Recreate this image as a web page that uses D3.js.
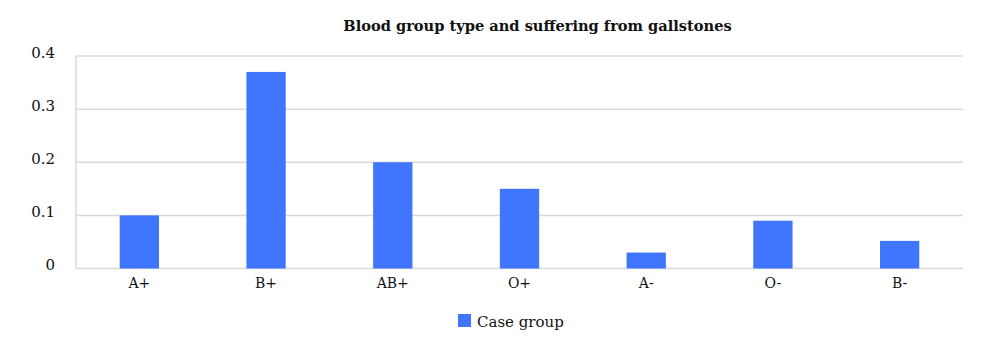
<!DOCTYPE html>
<html><head><meta charset="utf-8">
<script src="https://cdn.jsdelivr.net/npm/d3@7"></script>
<style>body{margin:0;background:#fff}svg{display:block}text{font-family:"DejaVu Serif","Liberation Serif",serif;fill:#111}</style>
</head><body><svg id="c" width="1000" height="341"></svg>
<script>
const categories = ["A+","B+","AB+","O+","A-","O-","B-"];
const caseGroup = [0.1,0.37,0.2,0.15,0.03,0.09,0.052];
const yTicks = [0,0.1,0.2,0.3,0.4];
const title = "Blood group type and suffering from gallstones";
const seriesName = "Case group";

const svg = d3.select("#c");
const L=76,R=963,T=56,B=268.5;
const x = d3.scaleBand().domain(categories).range([L,R]).paddingInner(0.69).paddingOuter(0.345);
const y = d3.scaleLinear().domain([0,0.4]).range([B,T]);

svg.append("g").selectAll("line").data(yTicks).join("line")
  .attr("x1",L).attr("x2",R).attr("y1",d=>y(d)).attr("y2",d=>y(d))
  .attr("stroke","#d9d9d9").attr("stroke-width",1.5);
svg.append("line").attr("x1",L).attr("x2",L).attr("y1",T).attr("y2",B).attr("stroke","#d9d9d9").attr("stroke-width",1.5);

svg.append("g").selectAll("rect").data(caseGroup).join("rect")
  .attr("x",(d,i)=>x(categories[i])).attr("width",x.bandwidth())
  .attr("y",d=>y(d)).attr("height",d=>B-y(d)).attr("fill","#4076fd");

svg.append("g").selectAll("text").data(yTicks).join("text")
  .attr("x",55).attr("y",d=>y(d)).attr("dy","0.1em").attr("text-anchor","end")
  .attr("font-size",15).text(d=>d===0?"0":d3.format(".1f")(d));

svg.append("g").selectAll("text").data(categories).join("text")
  .attr("x",d=>x(d)+x.bandwidth()/2).attr("y",288).attr("text-anchor","middle")
  .attr("font-size",14).text(d=>d);

svg.append("text").attr("x",537.5).attr("y",31).attr("text-anchor","middle")
  .attr("font-size",14.6).attr("font-weight","bold").text(title);

svg.append("rect").attr("x",458).attr("y",314).attr("width",13).attr("height",13).attr("fill","#4076fd");
svg.append("text").attr("x",477).attr("y",326.5).attr("font-size",15).text(seriesName);
</script></body></html>
